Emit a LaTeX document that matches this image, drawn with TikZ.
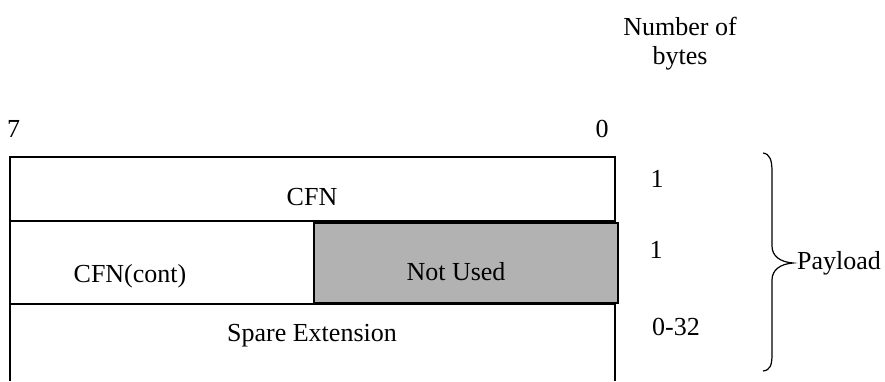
\documentclass[tikz,border=0pt]{standalone}
\usepackage{fontspec}
\setmainfont{Liberation Serif}
\definecolor{unusedgray}{RGB}{178,178,178}
\begin{document}
\begin{tikzpicture}[x=1pt,y=-1pt,
  lbl/.style={inner sep=0pt,anchor=base,font=\fontsize{26}{30}\selectfont},
  frame/.style={draw=black,line width=1.5pt},
  bracestyle/.style={draw=black,line width=1.2pt}]
\useasboundingbox (0,0) rectangle (885,381);
% frame rows
\draw[frame] (10,381) -- (10,157) -- (615,157) -- (615,381);
\draw[frame] (10,221) -- (615,221);
\draw[frame] (10,304) -- (615,304);
\node[frame,fill=unusedgray,minimum width=304pt,minimum height=80pt,inner sep=0pt,anchor=north west] (notused) at (313,222) {};
% labels
\node[lbl] (seven) at (13.5,137) {7};
\node[lbl] (zero) at (602,137) {0};
\node[lbl] (nb1) at (680,35) {Number of};
\node[lbl] (nb2) at (680,64) {bytes};
\node[lbl] (cfn) at (312,205) {CFN};
\node[lbl] (cfncont) at (130,282) {CFN(cont)};
\node[lbl] (nu) at (456,280) {Not Used};
\node[lbl] (spare) at (312,341) {Spare Extension};
\node[lbl] (b1) at (657,187) {1};
\node[lbl] (b2) at (656,258) {1};
\node[lbl] (b3) at (676,335) {0-32};
\node[lbl] (payload) at (839,269) {Payload};
% brace
\coordinate (btop) at (763,153);
\coordinate (bbot) at (763,371);
\coordinate (btip) at (793,263);
\draw[bracestyle] (btop) .. controls (770,154) and (772,160) .. (772,172) -- (772,246)
  .. controls (772,256) and (780,262) .. (btip)
  .. controls (780,264) and (772,270) .. (772,280) -- (772,354)
  .. controls (772,366) and (770,370) .. (bbot);
\end{tikzpicture}
\end{document}
